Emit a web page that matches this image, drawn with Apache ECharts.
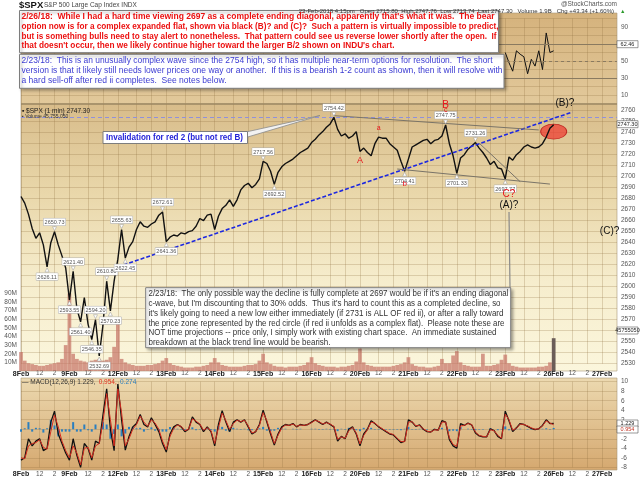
<!DOCTYPE html>
<html>
<head>
<meta charset="utf-8">
<title>$SPX 1 min</title>
<script src="https://cdn.jsdelivr.net/npm/echarts@6/dist/echarts.min.js"></script>
<style>
  html, body { margin: 0; padding: 0; background: #fff; }
  #container { width: 640px; height: 479px; }
</style>
</head>
<body>
<div id="container"></div>
<script>
// $SPX 1 min, 8 Feb - 23 Feb 2018, every 30 minutes (13 slots a session)

const days = ['8Feb', '9Feb', '12Feb', '13Feb', '14Feb', '15Feb', '16Feb', '20Feb', '21Feb', '22Feb', '23Feb', '26Feb', '27Feb'];
const sessionTimes = ['9:30', '10:00', '10:30', '11:00', '11:30', '12:00', '12:30', '13:00', '13:30', '14:00', '14:30', '15:00', '15:30'];
const hourLabels = { '12:00': '12', '14:00': '2' };
const slotCount = 161;

const spxClose = [
  2682, 2676, 2666, 2653, 2644, 2649, 2638, 2618, 2640, 2650, 2638, 2628, 2617,
  2588, 2614, 2580, 2568, 2590, 2566, 2552, 2570, 2537, 2565, 2605, 2578, 2605,
  2625, 2652, 2626, 2636, 2641, 2652, 2659, 2655, 2654, 2657, 2659, 2665, 2668,
  2641, 2645, 2647, 2646, 2649, 2648, 2650, 2651, 2655, 2662, 2660, 2665, 2666,
  2652, 2664, 2671, 2674, 2679, 2673, 2679, 2688, 2692, 2694, 2690, 2693, 2698,
  2714, 2712, 2705, 2693, 2704, 2709, 2712, 2714, 2716, 2719, 2722, 2724, 2726,
  2731, 2734, 2738, 2741, 2745, 2748, 2754, 2743, 2737, 2739, 2735, 2737, 2741,
  2723, 2726, 2722, 2719, 2730, 2736, 2735, 2735, 2730, 2727, 2724, 2714, 2705,
  2716, 2727, 2729, 2731, 2733, 2734, 2730, 2733, 2734, 2737, 2747, 2730, 2719,
  2703, 2717, 2720, 2725, 2728, 2731, 2726, 2722, 2717, 2711, 2714, 2708, 2707,
  2698, 2718, 2715, 2720, 2723, 2727, 2729, 2727, 2726, 2727, 2730, 2736, 2744,
  2747.3
];

// volume, millions of shares a minute
const volumeM = [
  22, 12, 9, 8, 7, 6, 6, 7, 8, 9, 10, 14, 30,
  90, 20, 14, 12, 11, 10, 12, 13, 14, 12, 13, 16, 28,
  60, 14, 10, 8, 7, 6, 6, 6, 7, 7, 8, 9, 12,
  15, 9, 7, 6, 5, 4, 4, 4, 5, 5, 6, 7, 10,
  15, 10, 7, 6, 5, 5, 5, 5, 6, 7, 7, 8, 12,
  20, 10, 8, 6, 5, 5, 4, 5, 5, 5, 6, 7, 10,
  16, 9, 7, 6, 5, 5, 5, 4, 5, 5, 6, 7, 11,
  26, 10, 7, 6, 5, 5, 5, 5, 5, 6, 7, 8, 10,
  16, 8, 6, 5, 5, 4, 4, 5, 6, 14, 9, 9, 18,
  23, 10, 7, 6, 5, 5, 5, 20, 6, 6, 7, 8, 13,
  19, 9, 6, 5, 4, 4, 4, 4, 4, 5, 5, 6, 10,
  38
];

const macdLine = [
  -6.5, -6.0, -2.0, -3.5, -2.5, -2.0, -4.5, -4.0, 1.5, 3.8, -1.0, -3.0, -5.0,
  -6.5, -2.0, -5.5, -8.0, -3.0, -4.0, -6.5, -2.5, -3.0, 3.0, 8.5, 0.0, -4.5,
  9.5, 2.0, -4.4, -1.5, 0.5, 1.2, 3.1, 1.0, 0.5, 2.4, 1.0, -0.5, -3.0,
  -4.8, -1.0, 0.5, 1.0, 0.5, -0.5, 0.0, 2.6, 1.5, 1.0, -0.5, 0.5, -0.5,
  -3.5, 1.0, 3.9, 1.5, -0.5, 1.5, 2.0, 1.5, 2.0, 0.5, -1.0, -0.5, 1.0,
  4.0, 1.5, -1.0, -3.3, -1.0, 0.5, 1.0, 0.8, 1.2, 0.5, 1.0, 0.8, 1.0,
  1.5, 2.0, 1.5, 1.0, 1.5, 1.0, 0.5, -2.5, -1.5, -2.0, 0.0, 0.5, -1.0,
  -3.5, -1.0, 0.0, 1.8, 1.2, 0.5, 0.0, -0.5, -1.0, -1.2, -2.0, -2.8, -2.5,
  2.0, 1.5, 0.6, 0.9, 0.0, -0.5, -0.6, 0.0, -0.2, 1.8, 1.5, -2.2, -3.5,
  -4.0, 1.2, 0.8, 1.3, 0.9, -0.8, -1.4, -1.6, -1.6, 0.1, -0.3, -1.5, -2.0,
  3.8, 1.8, -0.5, 0.3, 1.2, 1.0, 0.6, 0.2, -0.1, 0.1, 0.8, 2.0, 1.2,
  1.229
];

const signalLine = [
  -6.0, -6.2, -3.5, -3.0, -2.8, -2.2, -3.8, -4.2, -0.5, 3.0, 0.5, -2.5, -4.5,
  -6.0, -3.5, -5.0, -7.5, -4.0, -3.8, -6.0, -3.5, -3.0, 1.5, 7.5, 2.0, -3.5,
  8.5, 3.5, -3.5, -2.0, 0.0, 1.0, 2.8, 1.5, 0.6, 2.0, 1.3, 0.0, -2.5,
  -4.3, -1.5, 0.2, 0.9, 0.6, -0.3, 0.0, 2.2, 1.7, 1.1, -0.2, 0.3, -0.3,
  -3.0, 0.3, 3.4, 1.8, 0.0, 1.2, 1.9, 1.6, 1.9, 0.7, -0.8, -0.5, 0.8,
  3.5, 1.8, -0.6, -3.0, -1.3, 0.3, 0.9, 0.8, 1.1, 0.6, 0.9, 0.8, 1.0,
  1.4, 1.9, 1.6, 1.1, 1.4, 1.1, 0.6, -2.1, -1.6, -1.9, -0.3, 0.4, -0.8,
  -3.1, -1.3, -0.1, 1.5, 1.3, 0.6, 0.1, -0.4, -0.9, -1.1, -1.9, -2.6, -2.6,
  1.5, 1.6, 0.7, 0.8, 0.1, -0.4, -0.6, -0.1, -0.2, 1.5, 1.5, -1.8, -3.2,
  -3.6, 0.7, 0.8, 1.2, 1.0, -0.6, -1.3, -1.5, -1.6, -0.1, -0.3, -1.3, -1.9,
  3.2, 2.0, -0.2, 0.2, 1.1, 1.0, 0.7, 0.3, 0.0, 0.1, 0.7, 1.8, 1.3,
  0.954
];

const macdHist = [
  -0.5, 0.2, 1.5, -0.5, 0.3, 0.2, -0.7, 0.2, 2.0, 0.8, -1.5, -0.5, -0.5,
  -0.5, 1.5, -0.5, -0.5, 1.0, -0.2, -0.5, 1.0, 0.0, 1.5, 1.0, -2.0, -1.0,
  1.0, -1.5, -0.9, 0.5, 0.5, 0.2, 0.3, -0.5, -0.1, 0.4, -0.3, -0.5, -0.5,
  -0.5, 0.5, 0.3, 0.1, -0.1, -0.2, 0.0, 0.4, -0.2, -0.1, -0.3, 0.2, -0.2,
  -0.5, 0.7, 0.5, -0.3, -0.5, 0.3, 0.1, -0.1, 0.1, -0.2, -0.2, 0.0, 0.2,
  0.5, -0.3, -0.4, -0.3, 0.3, 0.2, 0.1, 0.0, 0.1, -0.1, 0.1, 0.0, 0.0,
  0.1, 0.1, -0.1, -0.1, 0.1, -0.1, -0.1, -0.4, 0.1, -0.1, 0.3, 0.1, -0.2,
  -0.4, 0.3, 0.1, 0.3, -0.1, -0.1, -0.1, -0.1, -0.1, -0.1, -0.1, -0.2, 0.1,
  0.5, -0.1, -0.1, 0.1, -0.1, -0.1, 0.0, 0.1, 0.0, 0.3, 0.0, -0.4, -0.3,
  -0.4, 0.5, 0.0, 0.1, -0.1, -0.2, -0.1, -0.1, 0.0, 0.2, 0.0, -0.2, -0.1,
  0.6, -0.2, -0.3, 0.1, 0.1, 0.0, -0.1, -0.1, -0.1, 0.0, 0.1, 0.2, -0.1,
  0.274
];

// only the 23 Feb stretch of the RSI pane shows past the notes
const rsiStartSlot = 130;
const rsiFeb23 = [60, 48, 38, 62, 58, 55, 35, 52, 44, 62, 40, 83, 60, 62];
const rsiLabels = [10, 30, 50, 90];

// [slot, price, text, side]
const priceTags = [
  [9, 2650, '2650.73', 'top'], [7, 2618, '2626.11', 'bottom'], [14, 2614, '2621.40', 'top'],
  [13, 2588, '2593.55', 'bottom'], [16, 2568, '2561.40', 'bottom'], [20, 2570, '2594.20', 'top'],
  [19, 2552, '2546.35', 'bottom'], [21, 2537, '2532.69', 'bottom'], [23, 2605, '2610.80', 'top'],
  [24, 2578, '2570.23', 'bottom'], [27, 2652, '2655.63', 'top'], [28, 2626, '2622.45', 'bottom'],
  [38, 2668, '2672.61', 'top'], [39, 2641, '2641.36', 'bottom'], [65, 2714, '2717.56', 'top'],
  [68, 2693, '2692.52', 'bottom'], [84, 2754, '2754.42', 'top'], [103, 2705, '2704.41', 'bottom'],
  [114, 2747, '2747.75', 'top'], [117, 2703, '2701.33', 'bottom'], [122, 2731, '2731.26', 'top'],
  [130, 2698, '2697.77', 'bottom']
];

// [text, slot, price, colour, size, lift]
const waveLabels = [
  ['A', 91, 2715, '#e8141b', 9, 0], ['a', 96, 2744, '#e8141b', 7, 0], ['b', 103, 2694, '#e8141b', 8, 0],
  ['B', 114, 2765.8, '#e8141b', 10, 1], ['c', 114, 2760.5, '#e8141b', 7, 0], ['C?', 131, 2684, '#e8141b', 10, 0],
  ['(A)?', 131, 2674, '#111', 10, 0], ['(B)?', 146, 2765.5, '#111', 10, -1], ['(C)?', 158, 2650, '#111', 10, 0]
];

// [[slot, price], [slot, price], colour, type, width]
const trendLines = [
  [[26, 2618], [148, 2758.8], '#1d28e0', [4, 2], 1.6],
  [[84, 2755.5], [139, 2742.5], '#7a7468', 'solid', 1],
  [[101, 2707], [142, 2693.3], '#7a7468', 'solid', 1],
  [[123, 2730.5], [134, 2695.5], '#7a7468', 'solid', 1]
];
const invalidationLevel = 2754.42;
const zoneCircle = [[143, 2741]];

const FONT = '"Liberation Sans", Arial, sans-serif';
const gridColor = 'rgba(140, 108, 60, 0.25)';

const categories = [];
for (let i = 0; i < slotCount; i++) {
  categories.push(days[Math.floor(i / 13)] + ' ' + sessionTimes[i % 13]);
}
const showSlot = (i) => [0, 5, 9].includes(i % 13);
const timeLabel = (value) => {
  const parts = value.split(' ');
  return parts[1] === '9:30' ? '{d|' + parts[0] + '}' : '{h|' + hourLabels[parts[1]] + '}';
};

const rsiData = new Array(slotCount).fill(null);
rsiFeb23.forEach((v, i) => { rsiData[rsiStartSlot + i] = v; });

function xAxisFor(gridIndex, labels, margin) {
  return {
    type: 'category', gridIndex, data: categories, boundaryGap: false,
    axisLine: { show: false }, axisTick: { show: false },
    axisLabel: labels ? {
      interval: showSlot, formatter: timeLabel, margin, fontFamily: FONT,
      rich: { d: { fontSize: 7, fontWeight: 'bold', color: '#222', fontFamily: FONT }, h: { fontSize: 6.5, color: '#555', fontFamily: FONT } }
    } : { show: false },
    splitLine: { show: gridIndex !== 2, interval: showSlot, lineStyle: { color: gridColor, width: 1 } }
  };
}

function yAxisFor(gridIndex, min, max, interval, formatter, position) {
  return {
    type: 'value', gridIndex, min, max, interval, position: position || 'right',
    axisLine: { show: false }, axisTick: { show: false },
    axisLabel: { formatter, fontSize: 6.5, color: '#555', margin: 4, fontFamily: FONT },
    splitLine: { show: gridIndex !== 2, lineStyle: { color: gridColor, width: 1 } }
  };
}

// text squeezed to the width it takes in the picture
const measureCtx = document.createElement('canvas').getContext('2d');
function fitText(str, x, y, width, size, weight, color) {
  measureCtx.font = weight + ' ' + size + 'px "Liberation Sans", Arial, sans-serif';
  const w = measureCtx.measureText(str).width;
  return {
    type: 'text', x, y, scaleX: width / w, z: 101,
    style: { text: str, fontSize: size, fontWeight: weight, fontFamily: FONT, fill: color, verticalAlign: 'middle' }
  };
}
function plainText(str, x, y, size, color, weight, align) {
  return {
    type: 'text', x, y, z: 101,
    style: { text: str, fontSize: size, fontWeight: weight || 'normal', fontFamily: FONT, fill: color, verticalAlign: 'middle', align: align || 'left' }
  };
}
function box(x, y, w, h, shadow) {
  return {
    type: 'rect', z: 100, shape: { x, y, width: w, height: h },
    style: { fill: '#fff', stroke: '#7d7d7d', lineWidth: 1, shadowBlur: shadow ? 3 : 0, shadowOffsetX: shadow ? 2 : 0, shadowOffsetY: shadow ? 2 : 0, shadowColor: 'rgba(0,0,0,0.35)' }
  };
}
function panel(y, h, stops) {
  return {
    type: 'rect', z: -10, shape: { x: 21, y, width: 596, height: h },
    style: { fill: new echarts.graphic.LinearGradient(0, 0, 0, 1, stops.map((c, i) => ({ offset: i / (stops.length - 1), color: c }))), stroke: '#a89878', lineWidth: 0.6 }
  };
}
function valueTag(str, y, color) {
  return [
    { type: 'rect', z: 100, shape: { x: 617, y: y - 3.5, width: 21, height: 7 }, style: { fill: '#fff', stroke: '#555', lineWidth: 0.6 } },
    plainText(str, 627.5, y, 5.5, color || '#222', 'normal', 'center')
  ];
}

const redNote = [
  '2/26/18:  While I had a hard time viewing 2697 as a complete ending diagonal, apparently that\'s what it was.  The bear',
  'option now is for a complex expanded flat, shown via black (B)? and (C)?  Such a pattern is virtually impossible to predict,',
  'but is something bulls need to stay alert to nonetheless.  That pattern could see us reverse lower shortly after the open.  If',
  'that doesn\'t occur, then we likely continue higher toward the larger B/2 shown on INDU\'s chart.'
];
const redWidths = [473, 477, 475, 373];
const blueNote = [
  '2/23/18:  This is an unusually complex wave since the 2754 high, so it has multiple near-term options for resolution.  The short',
  'version is that it likely still needs lower prices one way or another.  If this is a bearish 1-2 count as shown, then it will resolve with',
  'a hard sell-off after red ii completes.  See notes below.'
];
const blueWidths = [471, 481, 205];
const lowerNote = [
  '2/23/18:  The only possible way the decline is fully complete at 2697 would be if it\'s an ending diagonal',
  'c-wave, but I\'m discounting that to 30% odds.  Thus it\'s hard to count this as a completed decline, so',
  'it\'s likely going to need a new low either immediately (if 2731 is ALL OF red ii), or after a rally toward',
  'the price zone represented by the red circle (if red ii unfolds as a complex flat).  Please note these are',
  'NOT time projections -- price only, I simply work with existing chart space.  An immediate sustained',
  'breakdown at the black trend line would be bearish.'
];
const lowerWidths = [360, 352, 355, 356, 348, 182];

const graphics = [
  panel(13, 91, ['#d5b27c', '#e2c99b']),
  panel(104, 267, ['#d8bc8a', '#e9d7aa', '#f6edcd', '#fbf6dc']),
  panel(378, 92, ['#ecd9b0', '#d5a86f']),
  { type: 'line', z: 1, shape: { x1: 21, y1: 104, x2: 617, y2: 104 }, style: { stroke: '#9c8a66', lineWidth: 1.2 } },
  plainText('$SPX', 19, 5, 9.5, '#111', 'bold'),
  plainText('S&P 500 Large Cap Index INDX', 44, 5.5, 6.5, '#444'),
  plainText('@StockCharts.com', 617, 4.5, 6.5, '#555', 'normal', 'right'),
  plainText('23-Feb-2018 4:15pm   Open 2715.80  High 2747.76  Low 2713.74  Last 2747.30   Volume 1.9B   Chg +43.34 (+1.60%)', 614, 11.3, 6, '#333', 'normal', 'right'),
  plainText('\u25B2', 620, 11.3, 5.5, '#2a9a2a'),
  plainText('\u25AA $SPX (1 min) 2747.30', 22, 111, 6.5, '#222'),
  plainText('\u25AA Volume 45,755,050', 22, 116.5, 5, '#333'),
  {
    type: 'text', x: 22, y: 382.5, z: 101,
    style: {
      text: '{k|\u2014 MACD(12,26,9) 1.229,} {r|0.954,} {b|0.274}', verticalAlign: 'middle', fontFamily: FONT,
      rich: { k: { fontSize: 6.5, fill: '#333', fontFamily: FONT }, r: { fontSize: 6.5, fill: '#e0301e', fontFamily: FONT }, b: { fontSize: 6.5, fill: '#2a7fc0', fontFamily: FONT } }
    }
  },
  ...valueTag('2747.30', 124.2),
  ...valueTag('62.46', 44.2),
  ...valueTag('45755050', 330.5),
  ...valueTag('1.229', 423.5),
  ...valueTag('0.954', 429.5, '#c03020'),
  box(19.5, 10.5, 479, 42.2, true),
  box(19.5, 54.3, 484.5, 34, true),
  box(145.7, 287.7, 365, 60, true),
  { type: 'polygon', z: 99, shape: { points: [[246, 132], [320, 115.5], [246, 137.5]] }, style: { fill: '#f2f2f2', stroke: '#8a8a8a', lineWidth: 0.8 } },
  box(103, 131.5, 144.5, 12, false),
  { type: 'line', z: 99, shape: { x1: 509, y1: 212, x2: 510, y2: 288 }, style: { stroke: '#8a8a8a', lineWidth: 1.2 } },
  fitText('Invalidation for red 2 (but not red B)', 106, 137.8, 137, 9, 'bold', '#2424d8')
];
redNote.forEach((t, i) => graphics.push(fitText(t, 21.5, 16.8 + i * 9.65, redWidths[i], 9, 'bold', '#ec1010')));
blueNote.forEach((t, i) => graphics.push(fitText(t, 21.5, 61 + i * 9.9, blueWidths[i], 9, 'normal', '#3b3bd2')));
lowerNote.forEach((t, i) => graphics.push(fitText(t, 148.5, 294 + i * 9.75, lowerWidths[i], 9, 'normal', '#333')));

const tagPoints = priceTags.map(([slot, price, text, side]) => ({
  coord: [slot, price],
  symbol: 'triangle', symbolSize: 4,
  symbolRotate: side === 'top' ? 180 : 0,
  symbolOffset: [0, side === 'top' ? -3 : 3],
  itemStyle: { color: '#fff', borderColor: '#999', borderWidth: 0.5 },
  label: {
    show: true, position: side, distance: 1, formatter: text, fontSize: 5.5, color: '#555', fontFamily: FONT,
    backgroundColor: '#fff', borderColor: '#aaa', borderWidth: 0.5, padding: [1, 1, 0, 1]
  }
}));
const wavePoints = waveLabels.map(([text, slot, price, color, size, lift]) => ({
  coord: [slot, price], symbol: 'circle', symbolSize: 1, itemStyle: { color: 'rgba(0,0,0,0)' },
  label: { show: true, position: 'inside', offset: [0, lift], formatter: text, color, fontSize: size, fontFamily: FONT }
}));
const lineMarks = [
  { yAxis: invalidationLevel, lineStyle: { color: '#9090dc', type: [4, 3], width: 1 } },
  ...trendLines.map(([a, b, color, type, width]) => [{ coord: a, lineStyle: { color, type, width } }, { coord: b }])
];

const chart = echarts.init(document.getElementById('container'), null, { renderer: 'canvas' });

const option = {
  animation: false,
  backgroundColor: '#fff',
  textStyle: { fontFamily: FONT },
  grid: [
    { left: 21, right: 23, top: 18.5, height: 85 },
    { left: 21, right: 23, top: 104.1, height: 259.6 },
    { left: 21, right: 23, top: 293.3, height: 77.7 },
    { left: 21, right: 23, top: 381.7, height: 85.6 }
  ],
  xAxis: [
    xAxisFor(0, false),
    xAxisFor(1, true, 6.5),
    xAxisFor(2, false),
    xAxisFor(3, true, 3)
  ],
  yAxis: [
    yAxisFor(0, 0, 100, 10, (v) => (rsiLabels.includes(v) ? v : '')),
    yAxisFor(1, 2530, 2766, 10, (v) => (v % 10 === 0 ? v : '')),
    yAxisFor(2, 0, 90, 10, (v) => (v ? v + 'M' : ''), 'left'),
    yAxisFor(3, -8, 10, 2, (v) => (v === 0 ? '' : v))
  ],
  series: [
    {
      name: 'RSI', type: 'line', xAxisIndex: 0, yAxisIndex: 0, data: rsiData,
      symbol: 'none', lineStyle: { color: '#111', width: 1 }, z: 3,
      markLine: {
        silent: true, symbol: ['none', 'none'], label: { show: false },
        data: [
          { yAxis: 70, lineStyle: { color: '#8a7a60', type: 'solid', width: 1 } },
          { yAxis: 30, lineStyle: { color: '#8a7a60', type: 'solid', width: 1 } },
          { yAxis: 50, lineStyle: { color: '#8a7a60', type: [3, 3], width: 1 } }
        ]
      }
    },
    {
      name: 'Volume', type: 'bar', xAxisIndex: 2, yAxisIndex: 2, data: volumeM,
      barCategoryGap: '0%', z: 1,
      itemStyle: { color: (p) => (p.dataIndex === volumeM.length - 1 ? '#6b5d58' : 'rgba(196, 112, 100, 0.7)') }
    },
    {
      name: 'Zone', type: 'scatter', xAxisIndex: 1, yAxisIndex: 1, data: zoneCircle,
      symbol: 'circle', symbolSize: [26, 15], z: 2,
      itemStyle: { color: 'rgba(238, 58, 48, 0.9)', borderColor: '#b51010', borderWidth: 0.8 }
    },
    {
      name: '$SPX', type: 'line', xAxisIndex: 1, yAxisIndex: 1, data: spxClose,
      symbol: 'none', lineStyle: { color: '#111', width: 1.4 }, z: 3,
      markLine: { silent: true, symbol: ['none', 'none'], label: { show: false }, data: lineMarks },
      markPoint: { silent: true, data: tagPoints.concat(wavePoints) }
    },
    {
      name: 'Histogram', type: 'bar', xAxisIndex: 3, yAxisIndex: 3, data: macdHist,
      barWidth: 2, itemStyle: { color: '#2a7fc0' }, z: 2
    },
    {
      name: 'MACD', type: 'line', xAxisIndex: 3, yAxisIndex: 3, data: macdLine, clip: false,
      symbol: 'none', lineStyle: { color: '#111', width: 1.3 }, z: 3
    },
    {
      name: 'Signal', type: 'line', xAxisIndex: 3, yAxisIndex: 3, data: signalLine, clip: false,
      symbol: 'none', lineStyle: { color: '#d42a1e', width: 1 }, z: 4
    }
  ],
  graphic: { elements: graphics }
};

chart.setOption(option);
window.addEventListener('resize', () => chart.resize());
</script>
</body>
</html>
